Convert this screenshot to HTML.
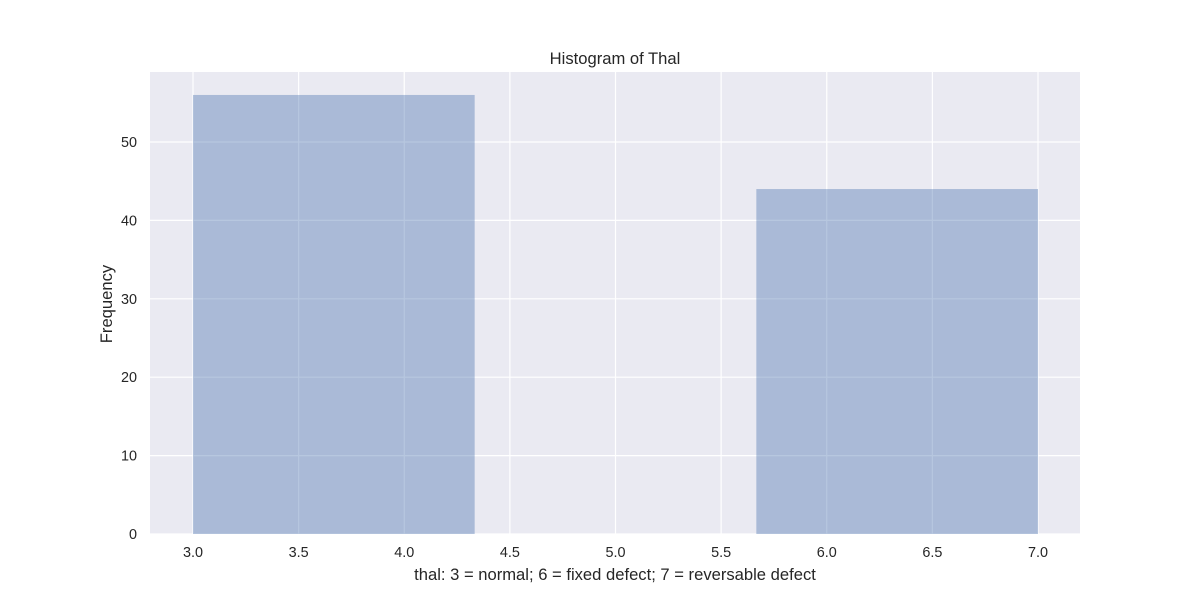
<!DOCTYPE html>
<html><head><meta charset="utf-8"><style>
body{margin:0;background:#fff;}
svg{display:block;font-family:"Liberation Sans","DejaVu Sans",sans-serif;}
</style></head><body>
<svg width="1200" height="600" viewBox="0 0 1200 600" id="chart">
<rect x="150" y="72" width="930" height="462" fill="#eaeaf2"/>
<g id="grid"></g>
<g id="bars"></g>
<g id="ticks"></g>
<text x="615" y="64" text-anchor="middle" font-size="16.6" fill="#262626">Histogram of Thal</text>
<text x="615" y="580" text-anchor="middle" font-size="16.6" fill="#262626">thal: 3 = normal; 6 = fixed defect; 7 = reversable defect</text>
<text transform="translate(112,304) rotate(-90)" text-anchor="middle" font-size="16.6" fill="#262626">Frequency</text>
</svg>
<script>
const binEdges=[3.0,4.3333,5.6667,7.0];
const counts=[56,0,44];
const xTicks=[3.0,3.5,4.0,4.5,5.0,5.5,6.0,6.5,7.0];
const yTicks=[0,10,20,30,40,50];
const ns="http://www.w3.org/2000/svg";
const X=v=>193+(v-3)*211.25;
const Y=v=>534-v*7.84;
const grid=document.getElementById('grid'),bars=document.getElementById('bars'),ticks=document.getElementById('ticks');
function mk(tag,attrs,parent){const e=document.createElementNS(ns,tag);for(const k in attrs)e.setAttribute(k,attrs[k]);parent.appendChild(e);return e;}
xTicks.forEach(t=>{
 const l=mk('line',{x1:X(t),x2:X(t),y1:72,y2:534,stroke:'#fff','stroke-width':1.2},grid);
 
 
 const tx=mk('text',{x:X(t),y:557,'text-anchor':'middle','font-size':14.4,fill:'#262626'},ticks);
 tx.textContent=t.toFixed(1);
 
 
});
yTicks.forEach(t=>{
 const l=mk('line',{x1:150,x2:1080,y1:Y(t),y2:Y(t),stroke:'#fff','stroke-width':1.2},grid);
 
 
 const tx=mk('text',{x:137,y:Y(t)+5,'text-anchor':'end','font-size':14.4,fill:'#262626'},ticks);
 tx.textContent=t;
 
 
});
counts.forEach((c,i)=>{
 if(c<=0)return;
 const r=mk('rect',{x:X(binEdges[i]),y:Y(c),width:X(binEdges[i+1])-X(binEdges[i]),height:Y(0)-Y(c),fill:'#4c72b0','fill-opacity':0.4},bars);
 
 
});
</script>
</body></html>
